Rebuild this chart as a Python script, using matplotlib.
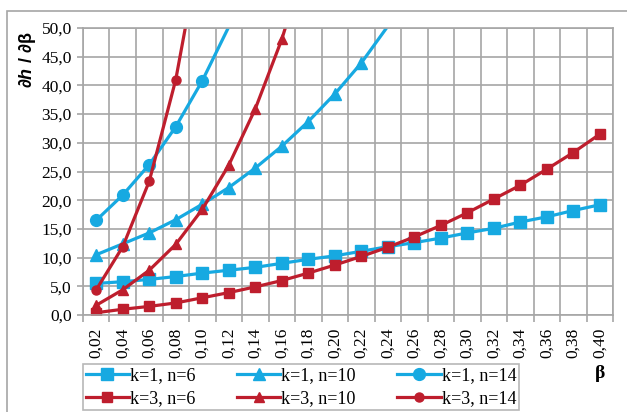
import matplotlib
matplotlib.use("Agg")
import matplotlib.pyplot as plt
import numpy as np
from matplotlib.patches import Rectangle

categories = ["0,02", "0,04", "0,06", "0,08", "0,10", "0,12", "0,14", "0,16", "0,18", "0,20",
              "0,22", "0,24", "0,26", "0,28", "0,30", "0,32", "0,34", "0,36", "0,38", "0,40"]

k1_n6 = [5.5, 5.8, 6.2, 6.7, 7.3, 7.8, 8.3, 9.0, 9.7, 10.3,
         11.1, 11.9, 12.6, 13.4, 14.3, 15.1, 16.2, 17.1, 18.2, 19.2]
k3_n6 = [0.4, 1.0, 1.5, 2.1, 3.0, 3.9, 4.9, 6.0, 7.3, 8.7,
         10.2, 11.8, 13.6, 15.6, 17.8, 20.2, 22.6, 25.4, 28.3, 31.5]
k1_n10 = [10.5, 12.4, 14.3, 16.6, 19.3, 22.2, 25.6, 29.4, 33.7, 38.5, 43.9, 50.3, 57.0]
k3_n10 = [1.7, 4.4, 7.8, 12.3, 18.4, 26.1, 35.9, 48.0, 63.0]
k1_n14 = [16.5, 20.9, 26.2, 32.8, 40.8, 50.2, 61.0]
k3_n14 = [4.4, 11.9, 23.3, 41.0, 66.0]

yticks = np.arange(0, 50.1, 5)
YMAX = 50
BLUE = "#17A9E1"
RED = "#BE1E2D"
GRID = "#A6A6A6"

plt.rcParams['font.family'] = ['Liberation Serif', 'DejaVu Serif']
plt.rcParams['mathtext.fontset'] = 'custom'
plt.rcParams['mathtext.bf'] = 'Liberation Sans:bold'
plt.rcParams['mathtext.rm'] = 'Liberation Sans:bold'
plt.rcParams['mathtext.it'] = 'Liberation Sans:bold:italic'
fig = plt.figure(figsize=(6.27, 4.12), dpi=100)
W, H = 627, 412
ax = fig.add_axes([83 / W, (H - 315) / H, (613 - 83) / W, (315 - 28) / H])


def series(vals, color, marker, ms, label):
    x = np.arange(len(vals))
    shown = [i for i, v in enumerate(vals) if v <= YMAX]
    h, = ax.plot(x, vals, color=color, lw=2.3, marker=marker, ms=ms,
                 markevery=shown, label=label)
    return h


h_b6 = series(k1_n6, BLUE, 's', 9, "k=1, n=6")
h_b10 = series(k1_n10, BLUE, '^', 8.5, "k=1, n=10")
h_b14 = series(k1_n14, BLUE, 'o', 8.5, "k=1, n=14")
h_r6 = series(k3_n6, RED, 's', 7, "k=3, n=6")
h_r10 = series(k3_n10, RED, '^', 7.5, "k=3, n=10")
h_r14 = series(k3_n14, RED, 'o', 6.5, "k=3, n=14")

n = len(categories)
ax.set_xlim(-0.5, n - 0.5)
ax.set_ylim(0, YMAX)
ax.set_xticks(np.arange(n))
ax.set_xticklabels(categories, rotation=90, fontsize=12.5)
ax.set_xticks(np.arange(n + 1) - 0.5, minor=True)
ax.tick_params(axis='x', which='major', length=0, pad=9)
ax.tick_params(axis='x', which='minor', length=5, color=GRID, width=1.2)
ax.set_yticks(yticks)
ax.set_yticklabels([f"{v:.1f}".replace(".", ",") for v in yticks], fontsize=12.5)
ax.tick_params(axis='y', length=4, color=GRID, width=1.2, pad=4)
ax.grid(True, axis='y', which='major', color=GRID, lw=1.2)
ax.grid(True, axis='x', which='minor', color=GRID, lw=1.2)
ax.set_axisbelow(True)
for s in ax.spines.values():
    s.set_color(GRID)
    s.set_linewidth(1.2)

fig.text(28 / W, 1 - 60 / H, r"$\mathrm{\partial}h\mathrm{\ /\ \partial\beta}$", rotation=90,
         ha='center', va='center', fontsize=13)
fig.text(600 / W, 1 - 373 / H, "β", ha='center', va='center', fontsize=14, fontweight='bold')

order = [h_b6, h_r6, h_b10, h_r10, h_b14, h_r14]
leg = fig.legend(order, [h.get_label() for h in order],
                 loc='lower left', bbox_to_anchor=(83 / W, 2 / H, (519 - 83) / W, 48 / H),
                 mode='expand', ncol=3, fontsize=13, frameon=True, fancybox=False,
                 handlelength=2.4, handletextpad=0.05, borderpad=0.15, labelspacing=0.35,
                 columnspacing=0.5, borderaxespad=0)
leg.get_frame().set_edgecolor(GRID)
leg.get_frame().set_linewidth(1.2)

fig.patches.append(Rectangle((7 / W, -0.1), 1.2, 1 - 11 / H + 0.1, transform=fig.transFigure,
                             fill=False, edgecolor=GRID, lw=1.2))

fig.savefig("out.png", dpi=100)
